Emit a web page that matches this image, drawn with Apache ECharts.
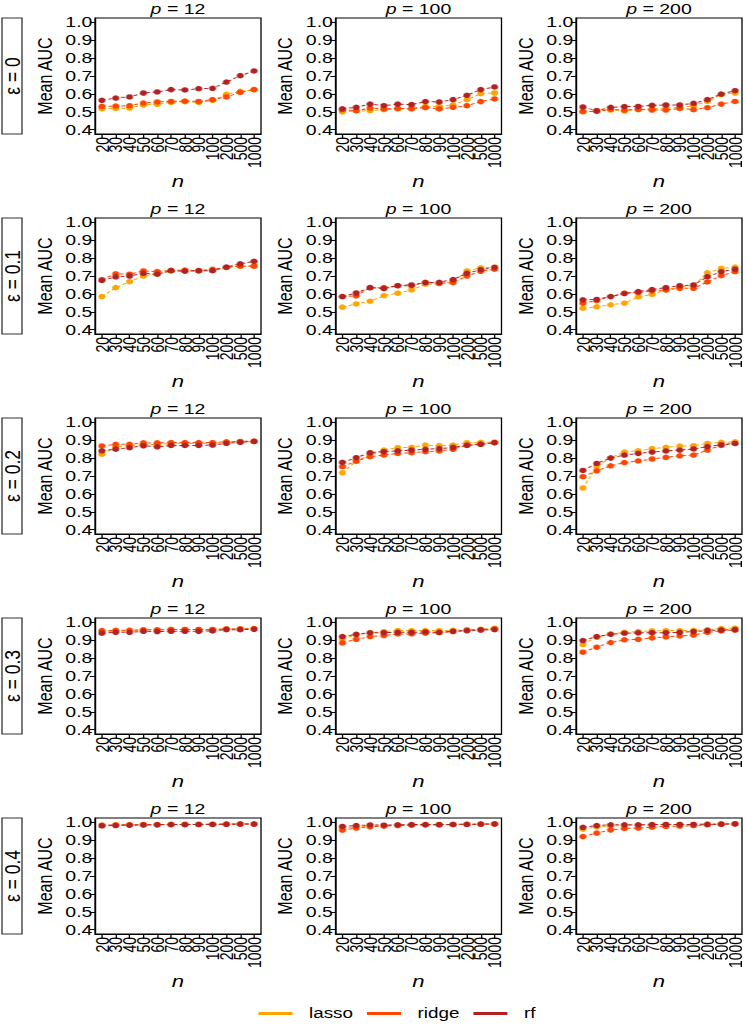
<!DOCTYPE html>
<html><head><meta charset="utf-8">
<script src="https://cdn.jsdelivr.net/npm/echarts@6/dist/echarts.min.js"></script>
<style>
html,body{margin:0;padding:0;background:#fff;overflow:hidden;width:747px;height:1028px}
#c{height:1028px;transform-origin:0 0}
</style>
</head><body><div id="c"></div><script>
const categories = ['20','30','40','50','60','70','80','90','100','200','500','1000'];
const pValues = ['12','100','200'];
const epsLabels = ['0','0.1','0.2','0.3','0.4'];
const yTicks = [0.4,0.5,0.6,0.7,0.8,0.9,1.0];
const methods = ['lasso','ridge','rf'];

// each array: [p=12, p=100, p=200]
const lasso_eps0 = [
 [0.517,0.519,0.521,0.538,0.542,0.553,0.557,0.553,0.564,0.598,0.614,0.624],
 [0.499,0.506,0.506,0.512,0.516,0.519,0.530,0.530,0.538,0.568,0.601,0.605],
 [0.499,0.506,0.510,0.504,0.512,0.517,0.521,0.523,0.534,0.558,0.596,0.605]];
const ridge_eps0 = [
 [0.530,0.532,0.534,0.549,0.555,0.558,0.560,0.558,0.568,0.583,0.609,0.624],
 [0.512,0.506,0.521,0.516,0.519,0.517,0.523,0.516,0.525,0.534,0.557,0.572],
 [0.502,0.502,0.514,0.510,0.514,0.510,0.510,0.519,0.512,0.523,0.543,0.558]];
const rf_eps0 = [
 [0.564,0.577,0.583,0.605,0.611,0.624,0.622,0.629,0.631,0.666,0.702,0.728],
 [0.517,0.525,0.543,0.534,0.543,0.540,0.557,0.555,0.568,0.592,0.624,0.639],
 [0.527,0.506,0.525,0.529,0.530,0.536,0.538,0.538,0.547,0.568,0.599,0.618]];

const lasso_eps01 = [
 [0.585,0.635,0.668,0.700,0.712,0.728,0.728,0.728,0.732,0.748,0.755,0.757],
 [0.526,0.544,0.559,0.590,0.604,0.622,0.654,0.657,0.668,0.728,0.746,0.750],
 [0.520,0.528,0.539,0.548,0.583,0.598,0.622,0.639,0.646,0.718,0.742,0.750]];
const ridge_eps01 = [
 [0.680,0.712,0.710,0.728,0.725,0.732,0.733,0.730,0.737,0.748,0.755,0.755],
 [0.585,0.589,0.635,0.635,0.646,0.646,0.665,0.659,0.663,0.700,0.726,0.738],
 [0.548,0.563,0.585,0.604,0.607,0.617,0.622,0.631,0.631,0.667,0.702,0.724]];
const rf_eps01 = [
 [0.675,0.695,0.700,0.715,0.710,0.730,0.727,0.730,0.730,0.750,0.768,0.782],
 [0.585,0.605,0.635,0.630,0.646,0.650,0.663,0.665,0.680,0.715,0.735,0.748],
 [0.567,0.569,0.585,0.602,0.613,0.624,0.635,0.646,0.650,0.696,0.724,0.738]];

const lasso_eps02 = [
 [0.822,0.863,0.870,0.875,0.877,0.880,0.882,0.882,0.882,0.888,0.890,0.892],
 [0.718,0.783,0.817,0.845,0.858,0.860,0.873,0.869,0.873,0.886,0.888,0.890],
 [0.633,0.752,0.802,0.834,0.841,0.853,0.860,0.867,0.869,0.882,0.888,0.891]];
const ridge_eps02 = [
 [0.868,0.877,0.877,0.885,0.885,0.887,0.887,0.887,0.887,0.891,0.893,0.895],
 [0.752,0.783,0.808,0.817,0.826,0.830,0.836,0.840,0.849,0.873,0.878,0.886],
 [0.696,0.729,0.757,0.775,0.784,0.795,0.804,0.813,0.817,0.845,0.871,0.882]];
const rf_eps02 = [
 [0.841,0.850,0.858,0.869,0.863,0.871,0.871,0.871,0.873,0.882,0.888,0.893],
 [0.776,0.802,0.830,0.836,0.841,0.845,0.849,0.853,0.860,0.871,0.877,0.886],
 [0.731,0.770,0.800,0.817,0.826,0.834,0.840,0.845,0.851,0.864,0.875,0.882]];

const lasso_eps03 = [
 [0.945,0.952,0.955,0.958,0.958,0.960,0.960,0.960,0.960,0.963,0.963,0.965],
 [0.907,0.931,0.942,0.948,0.954,0.954,0.954,0.954,0.955,0.959,0.961,0.967],
 [0.876,0.916,0.935,0.944,0.948,0.952,0.954,0.954,0.955,0.959,0.965,0.968]];
const ridge_eps03 = [
 [0.954,0.955,0.955,0.958,0.958,0.960,0.960,0.960,0.960,0.963,0.963,0.965],
 [0.885,0.905,0.920,0.926,0.935,0.935,0.939,0.942,0.948,0.954,0.959,0.963],
 [0.833,0.861,0.887,0.902,0.905,0.913,0.918,0.924,0.929,0.944,0.952,0.957]];
const rf_eps03 = [
 [0.939,0.944,0.944,0.950,0.948,0.950,0.950,0.950,0.952,0.959,0.959,0.961],
 [0.920,0.933,0.941,0.942,0.944,0.944,0.946,0.944,0.950,0.954,0.957,0.959],
 [0.898,0.920,0.933,0.939,0.941,0.942,0.942,0.944,0.948,0.954,0.957,0.959]];

const lasso_eps04 = [
 [0.983,0.985,0.986,0.987,0.987,0.988,0.988,0.988,0.989,0.990,0.990,0.990],
 [0.968,0.975,0.980,0.982,0.984,0.986,0.987,0.988,0.988,0.989,0.990,0.991],
 [0.962,0.975,0.980,0.982,0.984,0.986,0.987,0.988,0.988,0.990,0.991,0.992]];
const ridge_eps04 = [
 [0.984,0.985,0.986,0.987,0.987,0.988,0.988,0.988,0.989,0.990,0.990,0.990],
 [0.956,0.968,0.975,0.978,0.982,0.984,0.985,0.986,0.987,0.988,0.989,0.990],
 [0.920,0.940,0.957,0.966,0.968,0.973,0.977,0.979,0.981,0.986,0.989,0.991]];
const rf_eps04 = [
 [0.980,0.982,0.984,0.985,0.986,0.987,0.987,0.988,0.988,0.989,0.990,0.990],
 [0.977,0.982,0.985,0.984,0.986,0.987,0.987,0.987,0.988,0.989,0.990,0.991],
 [0.972,0.982,0.986,0.986,0.986,0.987,0.988,0.988,0.988,0.989,0.990,0.991]];

const seriesData = {
  lasso: [lasso_eps0, lasso_eps01, lasso_eps02, lasso_eps03, lasso_eps04],
  ridge: [ridge_eps0, ridge_eps01, ridge_eps02, ridge_eps03, ridge_eps04],
  rf:    [rf_eps0, rf_eps01, rf_eps02, rf_eps03, rf_eps04]
};
const colors = { lasso: '#FFA500', ridge: '#FF4500', rf: '#B22222' };

// The reference figure is stretched horizontally; reproduce with a horizontal scale.
const S = 1.3;
const W = 747 / S;
const el = document.getElementById('c');
el.style.width = W + 'px';
el.style.transform = 'scaleX(' + S + ')';

const FONT = 'Liberation Sans, Arial, Helvetica, sans-serif';
const L0 = 95 / S, CW = 240.5 / S, PW = 166 / S, T0 = 18, RH = 200, PH = 116;

const grids = [], xAxes = [], yAxes = [], series = [], graphics = [];
for (let r = 0; r < 5; r++) {
  const top = T0 + RH * r;
  graphics.push({ type: 'rect', shape: { x: 2 / S, y: top, width: 20 / S, height: PH },
    style: { fill: '#fff', stroke: '#333', lineWidth: 1 } });
  graphics.push({ type: 'text', x: 12.3 / S, y: top + PH / 2, rotation: Math.PI / 2,
    style: { text: 'ε = ' + epsLabels[r], fontSize: 17.5, fontFamily: FONT, fill: '#000',
      textAlign: 'center', textVerticalAlign: 'middle' } });
  for (let c = 0; c < 3; c++) {
    const k = r * 3 + c;
    const left = L0 + CW * c;
    grids.push({ left: left, top: top, width: PW, height: PH, show: true,
      borderColor: '#000', borderWidth: 1, backgroundColor: 'transparent' });
    graphics.push({ type: 'text', x: left + PW / 2, y: top - 9,
      style: { text: '{i|p} = ' + pValues[c], fontSize: 15, fontFamily: FONT, fill: '#000',
        textAlign: 'center', textVerticalAlign: 'middle',
        rich: { i: { fontStyle: 'italic', fontSize: 15, fontFamily: FONT } } } });
    xAxes.push({ gridIndex: k, type: 'category', data: categories, boundaryGap: true,
      axisLine: { show: true, lineStyle: { color: '#000', width: 1 } },
      axisTick: { show: true, alignWithLabel: true, interval: 0, length: 5, lineStyle: { color: '#000' } },
      axisLabel: { interval: 0, rotate: 90, fontSize: 14, color: '#000', margin: 3, fontFamily: FONT, hideOverlap: false },
      splitLine: { show: false },
      name: 'n', nameLocation: 'middle', nameGap: 37,
      nameTextStyle: { fontStyle: 'italic', fontSize: 17, color: '#000', fontFamily: FONT } });
    yAxes.push({ gridIndex: k, type: 'value', min: 0.376, max: 1.024,
      axisLine: { show: true, lineStyle: { color: '#000', width: 1 } },
      axisTick: { show: true, length: 4, customValues: yTicks, lineStyle: { color: '#000' } },
      axisLabel: { customValues: yTicks, formatter: v => v.toFixed(1), fontSize: 15, color: '#000', margin: 2, fontFamily: FONT },
      splitLine: { show: false },
      name: 'Mean AUC', nameLocation: 'middle', nameGap: 31,
      nameTextStyle: { fontSize: 16, color: '#000', fontFamily: FONT } });
    methods.forEach((m, mi) => {
      series.push({ type: 'line', name: m, xAxisIndex: k, yAxisIndex: k,
        data: seriesData[m][r][c], symbol: 'circle', symbolSize: 5.5, z: 2 + mi,
        lineStyle: { color: colors[m], width: 1, type: [3, 2] },
        itemStyle: { color: colors[m] }, emphasis: { disabled: true } });
    });
  }
}

const chart = echarts.init(el, null, { renderer: 'svg', width: W, height: 1028 });
chart.setOption({
  animation: false,
  backgroundColor: '#fff',
  textStyle: { fontFamily: FONT },
  grid: grids, xAxis: xAxes, yAxis: yAxes, series: series,
  legend: { data: methods, left: 252 / S, top: 1001, icon: 'rect', itemWidth: 34 / S, itemHeight: 3, itemGap: 14 / S,
    textStyle: { fontSize: 14.5, color: '#000', fontFamily: FONT, padding: [0, 0, 0, 10 / S] } },
  graphic: graphics
});
</script></body></html>
